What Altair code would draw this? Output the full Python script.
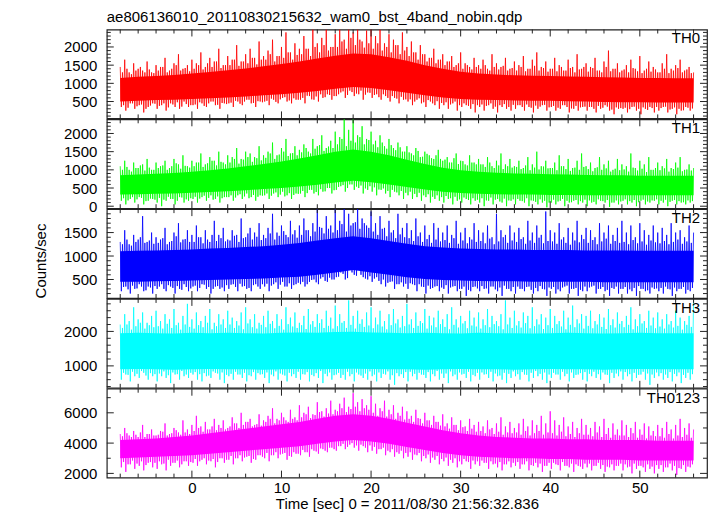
import altair as alt
import pandas as pd

TITLE = "ae806136010_20110830215632_wam0_bst_4band_nobin.qdp"
XTITLE = "Time [sec] 0 = 2011/08/30 21:56:32.836"
YTITLE = "Counts/sec"
BANDS = ["TH0", "TH1", "TH2", "TH3", "TH0123"]
COLORS = ["#ff0000", "#00ff00", "#0000ff", "#00ffff", "#ff00ff"]
X_DOMAIN = [-9.5, 57.5]
Y_DOMAINS = [[36, 2480], [-55, 2390], [105, 2000], [363, 2943], [1720, 7590]]
Y_MAJOR = [[500, 1000, 1500, 2000], [0, 500, 1000, 1500, 2000], [500, 1000, 1500],
           [1000, 2000], [2000, 4000, 6000]]
Y_MINOR = [list(range(100, 2500, 100)), list(range(0, 2400, 100)), list(range(200, 2000, 100)),
           list(range(400, 2900, 200)), list(range(2000, 8000, 1000))]
X_MAJOR = [0, 10, 20, 30, 40, 50]
X_MINOR = list(range(-8, 58, 2))

T_START = -8.0   # first time bin of the light curves (s)

# Excursions.
# *_UP_A: large upward excursions, every 0.5 s from -8 s
# *_UP_B: moderate upward excursions, every 0.5 s from -7.75 s
# *_DN_A / *_DN_B: downward excursions, every 0.5 s from -7.875 s / -7.625 s
# *_CORE_LO / *_CORE_HI: solid core of the band, every 2 s from -8 s
TH0_UP_A = [1450,1650,1300,1550,1400,1350,1600,1300,1500,
            1450,1700,1350,1550,1800,1400,1500,1650,
            1550,1850,1450,1700,1600,1950,1500,1750,
            1650,2050,1600,1800,1950,1700,2150,1750,
            1900,2200,1750,2000,2400,1850,2100,1950,
            2300,1950,2480,2100,2250,2480,2000,2350,
            2480,2200,2480,2400,2480,2150,2450,2480,
            2300,2480,2100,2350,2200,2050,2400,2000,
            2150,1850,2050,1800,1700,1950,1650,1800,
            1600,1750,1500,1850,1550,1450,1700,1500,
            1650,1400,1800,1550,1450,1700,1400,1600,
            1500,1750,1400,1650,1850,1450,1600,1400,
            1700,1500,1350,1650,1450,1800,1400,1550,
            1450,1700,1350,1600,1900,1400,1550,1350,
            1500,1650,1400,1750,1350,1600,1450,1300,
            1550,1800,1400,1500,1650,1350,1450,1300]
TH0_UP_B = [1300,1400,1250,1350,1450,1300,1380,1280,
            1350,1450,1300,1400,1500,1350,1420,1330,
            1400,1500,1380,1550,1450,1600,1420,1500,
            1500,1650,1480,1600,1550,1700,1520,1650,
            1650,1800,1600,1750,1700,1850,1650,1780,
            1800,1950,1750,2000,1850,2050,1900,2000,
            2000,2150,1950,2250,2050,2200,1980,2100,
            1950,2100,1900,2000,1850,2050,1800,1900,
            1750,1850,1650,1800,1600,1700,1550,1650,
            1500,1600,1450,1550,1400,1500,1380,1450,
            1400,1500,1350,1450,1380,1480,1350,1420,
            1350,1450,1330,1400,1480,1350,1420,1320,
            1400,1330,1450,1350,1420,1300,1380,1450,
            1320,1420,1350,1300,1450,1330,1400,1300,
            1380,1300,1420,1330,1280,1400,1320,1380,
            1300,1400,1280,1350,1420,1300,1380,1280]
TH0_DN_A = [350,250,450,300,400,200,350,450,
            300,400,250,450,350,300,500,350,
            400,300,450,350,500,400,300,450,
            450,350,500,400,550,450,350,500,
            500,400,550,450,600,500,450,550,
            550,450,650,550,500,600,700,550,
            650,750,600,800,650,700,550,750,
            600,700,550,650,500,600,450,550,
            500,400,550,450,350,500,400,300,
            400,300,450,250,350,400,300,200,
            350,250,400,300,200,350,300,250,
            300,400,250,350,200,300,400,250,
            350,250,300,400,200,300,250,350,
            250,350,200,300,400,250,150,300,
            300,200,350,250,150,300,350,200,
            250,350,200,300,150,250,350,250]
TH0_DN_B = [400,330,450,370,420,300,390,440,
            380,450,340,420,480,360,430,400,
            420,480,380,450,500,410,460,430,
            470,520,440,500,550,460,510,480,
            520,580,490,560,620,530,590,550,
            600,660,560,640,700,620,680,650,
            700,780,680,760,720,800,690,740,
            680,620,700,600,650,580,630,560,
            560,500,590,480,540,450,510,460,
            480,420,500,400,450,380,430,400,
            420,380,450,360,400,430,350,410,
            400,350,420,330,390,360,410,340,
            380,330,400,350,310,380,340,360,
            350,300,380,330,360,280,340,320,
            330,290,360,300,340,270,320,350,
            320,360,280,340,300,260,330,310]
TH0_CORE_LO = [500,520,540,550,570,590,610,640,670,700,740,790,850,900,870,810,740,
               670,610,570,550,540,530,520,520,510,500,490,480,480,470,470,470]
TH0_CORE_HI = [1150,1180,1200,1230,1270,1310,1360,1410,1470,1530,1600,1680,1760,1820,1800,1720,1620,
               1500,1400,1320,1270,1240,1220,1210,1200,1190,1180,1170,1160,1150,1150,1140,1140]

TH1_UP_A = [1100,1250,1000,1200,1050,1150,1300,1000,1200,
            1100,1250,1050,1300,1150,1400,1100,1250,
            1200,1450,1150,1350,1250,1500,1200,1400,
            1350,1600,1300,1500,1450,1350,1650,1400,
            1500,1750,1400,1600,1850,1450,1650,1550,
            1700,1500,1850,1650,1950,1600,1800,2050,
            1900,2390,2100,2390,1950,2200,1850,2050,
            1800,1950,1650,1850,1600,1750,1500,1650,
            1450,1600,1350,1500,1400,1300,1550,1250,
            1350,1200,1450,1250,1150,1400,1200,1300,
            1150,1350,1100,1250,1450,1150,1300,1100,
            1250,1050,1350,1150,1500,1100,1250,1050,
            1200,1400,1100,1300,1050,1250,1450,1100,
            1200,1050,1350,1150,1250,1000,1300,1150,
            1100,1450,1050,1250,1150,1350,1000,1200,
            1100,1300,1050,1200,1350,1000,1150,1050]
TH1_UP_B = [1000,1080,950,1050,1120,980,1060,1000,
            1050,1120,1000,1100,1180,1030,1110,1060,
            1100,1200,1080,1180,1250,1120,1220,1150,
            1200,1300,1170,1280,1350,1220,1320,1260,
            1330,1450,1300,1420,1500,1380,1460,1400,
            1480,1600,1450,1580,1680,1520,1640,1600,
            1700,1850,1650,1800,1750,1900,1700,1820,
            1700,1620,1750,1580,1680,1540,1620,1500,
            1480,1400,1520,1360,1440,1320,1400,1300,
            1280,1200,1320,1160,1240,1120,1200,1150,
            1150,1080,1200,1050,1120,1020,1100,1060,
            1080,1020,1120,990,1060,1010,1090,1040,
            1050,990,1100,1020,970,1060,1000,1080,
            1020,960,1070,1000,1040,950,1030,990,
            1010,950,1060,980,1030,940,1000,1050,
            990,1040,950,1020,1060,960,1010,980]
TH1_DN_A = [150,50,200,100,250,50,150,200,
            100,0,150,200,50,250,100,150,
            200,100,250,150,300,200,100,250,
            250,150,300,200,350,250,150,300,
            300,200,350,250,400,300,200,350,
            350,250,450,350,300,400,500,350,
            450,550,400,600,450,500,350,450,
            400,300,450,350,250,400,300,200,
            300,200,250,150,250,100,200,150,
            100,200,50,150,100,200,50,150,
            100,0,150,50,200,100,0,150,
            50,150,100,0,150,50,100,-30,
            100,50,150,0,100,150,50,100,
            0,100,50,150,100,-20,100,50,
            150,50,100,0,150,50,100,150,
            50,100,0,150,50,100,50,100]
TH1_DN_B = [220,160,250,190,230,140,210,180,
            230,180,260,200,150,240,190,220,
            260,210,290,230,180,270,220,250,
            300,240,330,270,220,310,260,290,
            350,290,380,320,270,360,310,340,
            420,360,450,390,470,410,500,440,
            530,580,500,600,540,570,490,550,
            520,460,490,420,450,380,420,370,
            400,340,370,300,330,260,300,250,
            280,220,260,190,240,170,220,180,
            220,160,240,180,130,210,160,190,
            200,140,220,160,120,190,150,100,
            180,130,200,150,110,170,140,180,
            160,120,190,140,170,100,160,130,
            190,140,170,110,180,130,160,190,
            150,180,120,170,140,110,160,140]
TH1_CORE_LO = [320,330,340,350,370,390,410,440,470,500,540,590,650,700,660,600,530,
               460,400,360,340,330,320,320,310,310,300,300,300,300,300,300,300]
TH1_CORE_HI = [850,870,890,910,950,990,1040,1100,1160,1230,1310,1400,1500,1560,1500,1400,1280,
               1160,1060,990,950,920,900,890,880,870,860,850,850,840,840,840,840]

TH2_UP_A = [1300,1550,1250,1450,1350,1850,1300,1500,1400,
            1350,1600,1300,1500,1700,1350,1550,1450,
            1650,1400,1550,1300,1750,1450,1600,1350,
            1550,1450,1800,1400,1600,1500,1700,1450,
            1600,1900,1500,1650,1450,1750,1550,1650,
            1800,1550,1700,2000,1600,1850,1650,2000,
            1750,2000,1900,1700,2000,1800,1650,1950,
            1700,1850,1600,1750,1550,1900,1600,1700,
            1550,1800,1500,1650,1450,1700,1600,1500,
            1650,1450,1750,1500,1600,1400,1700,1550,
            1500,1650,1400,1900,1550,1450,1650,1500,
            1600,1400,1750,1500,1650,1450,1950,1550,
            1500,1700,1400,1600,1500,1750,1450,1600,
            1550,1400,1700,1500,1650,1450,1600,1750,
            1500,1650,1400,1700,1550,1450,1650,1500,
            1600,1450,1700,1500,1550,1400,1650,1500]
TH2_UP_B = [1250,1350,1220,1300,1400,1280,1330,1260,
            1280,1380,1250,1320,1420,1290,1360,1300,
            1300,1400,1270,1350,1450,1320,1380,1310,
            1330,1430,1300,1380,1480,1350,1410,1340,
            1380,1480,1350,1430,1530,1400,1460,1390,
            1450,1550,1420,1520,1620,1480,1580,1500,
            1550,1680,1520,1650,1720,1580,1700,1600,
            1520,1450,1580,1420,1500,1380,1460,1400,
            1380,1320,1420,1300,1360,1280,1350,1310,
            1340,1280,1380,1260,1330,1270,1350,1300,
            1320,1270,1370,1250,1310,1400,1280,1330,
            1300,1360,1260,1330,1280,1390,1270,1320,
            1310,1260,1350,1280,1240,1330,1290,1360,
            1280,1340,1250,1310,1370,1260,1320,1280,
            1300,1250,1340,1270,1310,1240,1330,1290,
            1270,1320,1250,1300,1350,1260,1310,1280]
TH2_DN_A = [250,350,200,300,400,250,350,200,
            300,400,250,350,200,300,400,250,
            350,250,400,300,200,350,300,250,
            300,400,250,350,300,250,400,300,
            350,250,400,300,450,350,300,400,
            400,350,450,500,400,550,450,500,
            550,650,500,700,600,750,550,500,
            450,550,400,350,450,300,400,350,
            300,400,250,350,200,300,350,250,
            300,200,350,250,300,150,250,350,
            250,300,200,350,250,150,300,250,
            200,300,250,350,200,250,300,150,
            300,200,250,350,200,300,150,250,
            250,350,200,300,250,150,300,200,
            300,200,250,150,300,250,200,300,
            250,200,300,150,250,300,200,250]
TH2_DN_B = [340,290,370,310,350,270,330,360,
            350,300,380,320,360,280,340,310,
            370,320,390,340,300,360,330,380,
            390,340,410,360,320,380,350,400,
            410,370,440,390,350,420,380,430,
            450,400,490,440,520,470,540,500,
            560,620,530,650,580,600,520,570,
            520,470,500,430,460,400,440,410,
            420,380,400,340,370,320,360,330,
            380,330,360,300,350,280,340,310,
            360,310,350,290,330,370,300,340,
            350,300,340,280,320,360,290,330,
            340,290,330,370,300,320,280,350,
            330,370,300,340,280,320,350,300,
            340,290,320,360,300,270,330,310,
            320,350,290,330,300,340,280,320]
TH2_CORE_LO = [450,450,460,470,480,490,500,510,520,540,560,600,650,700,650,600,550,
               510,490,480,470,460,460,450,450,450,450,440,440,440,440,440,440]
TH2_CORE_HI = [1100,1110,1120,1130,1140,1160,1170,1190,1210,1240,1280,1330,1380,1420,1380,1320,1260,
               1210,1180,1160,1150,1140,1140,1130,1130,1130,1120,1120,1120,1110,1110,1110,1110]

TH3_UP_A = [2200,2500,2300,2700,2350,2550,2250,2450,2600,
            2300,2500,2350,2650,2250,2450,2800,2350,
            2550,2300,2450,2650,2250,2500,2350,2600,
            2400,2300,2550,2700,2350,2500,2250,2450,
            2600,2300,2500,2350,2700,2400,2550,2250,
            2450,2650,2300,2500,2350,2600,2400,2750,
            2500,2300,2900,2450,2600,2350,2550,2700,
            2400,2600,2300,2500,2650,2350,2450,2800,
            2350,2550,2300,2650,2450,2400,2600,2350,
            2500,2700,2350,2450,2300,2600,2400,2550,
            2350,2650,2450,2300,2500,2900,2400,2600,
            2300,2550,2450,2700,2350,2500,2400,2650,
            2450,2300,2600,2400,2750,2350,2500,2450,
            2600,2300,2500,2400,2650,2350,2550,2300,
            2450,2700,2350,2500,2300,2600,2400,2550,
            2350,2500,2300,2600,2400,2300,2450,2900]
TH3_UP_B = [2100,2200,2050,2150,2250,2080,2180,2120,
            2150,2080,2220,2100,2180,2050,2200,2130,
            2080,2180,2120,2250,2060,2150,2200,2100,
            2200,2100,2170,2060,2230,2120,2080,2190,
            2120,2220,2090,2160,2050,2210,2140,2100,
            2180,2070,2200,2130,2240,2100,2160,2080,
            2150,2250,2100,2190,2080,2220,2130,2170,
            2090,2200,2140,2060,2180,2230,2110,2150,
            2200,2100,2160,2240,2080,2170,2120,2210,
            2130,2060,2190,2110,2230,2090,2170,2140,
            2080,2180,2120,2210,2150,2060,2200,2100,
            2170,2110,2240,2090,2150,2200,2070,2180,
            2100,2210,2140,2060,2190,2120,2230,2080,
            2160,2090,2200,2130,2070,2180,2110,2220,
            2120,2190,2060,2150,2230,2100,2170,2090,
            2140,2080,2200,2110,2160,2050,2190,2130]
TH3_DN_A = [600,750,550,700,650,800,600,700,
            550,700,650,500,750,600,700,650,
            750,600,550,700,650,800,600,500,
            700,600,750,650,550,700,600,750,
            650,500,700,600,750,550,700,650,
            600,750,550,700,650,500,700,600,
            750,650,600,700,550,750,650,600,
            700,550,650,750,600,450,700,650,
            550,700,600,750,650,550,700,600,
            650,500,700,600,750,650,550,700,
            600,750,650,550,700,600,500,650,
            700,600,750,550,650,700,600,500,
            650,750,600,700,550,650,750,600,
            550,700,650,600,750,500,650,700,
            600,700,550,650,750,600,450,650,
            700,600,650,550,700,500,650,600]
TH3_DN_B = [800,740,830,770,850,720,790,760,
            780,840,730,810,760,850,750,800,
            820,760,790,720,840,780,810,740,
            770,830,750,800,730,820,790,760,
            810,750,840,780,720,800,760,830,
            760,820,740,790,850,770,810,730,
            800,740,830,760,810,720,780,840,
            750,810,770,840,730,790,760,820,
            830,770,800,740,820,760,850,780,
            780,840,750,810,770,830,740,800,
            810,760,830,780,720,800,770,840,
            760,820,740,800,850,770,810,750,
            800,750,830,770,810,740,790,820,
            770,830,760,810,740,800,780,840,
            820,760,800,740,830,780,750,810,
            790,750,820,770,810,740,800,760]
TH3_CORE_LO = [900,910,900,890,900,910,900,900,890,900,910,900,910,920,910,900,900,
               890,900,910,900,900,890,900,910,900,900,890,900,910,900,900,900]
TH3_CORE_HI = [1950,1960,1950,1940,1960,1950,1960,1950,1940,1960,1970,1960,1980,1990,1970,1960,1950,
               1960,1950,1940,1960,1950,1950,1940,1950,1960,1950,1940,1950,1960,1950,1950,1950]

TH0123_UP_A = [4600,5000,4500,4800,4400,5200,4600,4900,4500,
               4800,5300,4600,5000,4700,5500,4900,5200,
               5800,5100,5400,4900,5600,5200,5500,5000,
               5700,5300,6000,5400,5600,5200,5900,5500,
               5800,6300,5600,6000,5500,6200,5700,6500,
               6000,6400,5900,6700,6100,6300,6800,6200,
               6600,7000,6400,7300,6700,6900,6500,7100,
               6600,6300,6800,6200,6500,6000,6400,6100,
               5800,6200,5600,6000,5500,5800,5400,5900,
               5300,5700,5200,5500,5100,5600,5200,5400,
               5100,5500,5000,5300,5700,5100,5400,5000,
               5300,5600,5100,5500,5200,5800,5300,6100,
               5500,5200,5700,5100,5400,5000,5600,5200,
               5000,5400,5100,5600,5000,5300,4900,5500,
               5200,5000,5400,4900,5300,5100,4800,5200,
               5000,5400,4900,5200,5600,5000,5300,4900]
TH0123_UP_B = [4450,4650,4400,4550,4700,4400,4600,4500,
               4550,4750,4500,4650,4850,4550,4700,4600,
               4800,5000,4750,4900,5100,4850,5000,4900,
               5100,5300,5000,5200,5400,5100,5250,5150,
               5400,5600,5300,5500,5700,5400,5600,5500,
               5700,5900,5650,5850,6050,5750,5950,5900,
               6100,6300,6050,6250,6400,6100,6300,6200,
               6000,5800,6100,5750,5900,5600,5800,5550,
               5600,5400,5650,5300,5500,5200,5400,5150,
               5100,4950,5200,4850,5050,4800,4950,4750,
               4800,4650,4900,4600,4750,4550,4700,4650,
               4700,4550,4800,4500,4650,4800,4550,4700,
               4650,4500,4750,4450,4600,4400,4650,4550,
               4550,4450,4700,4400,4600,4350,4550,4500,
               4500,4400,4650,4350,4550,4300,4500,4450,
               4450,4350,4600,4300,4500,4400,4550,4350]
TH0123_DN_A = [2400,2100,2600,2300,2500,2200,2700,2400,
               2300,2600,2200,2500,2700,2400,2800,2500,
               2700,2500,2900,2600,2800,2400,3000,2700,
               2900,2600,3000,2800,3100,2700,2900,3200,
               3000,2800,3200,3000,3300,2900,3100,3300,
               3200,3400,3100,3500,3300,3600,3400,3700,
               3500,3800,3600,3900,3700,3500,3800,3400,
               3500,3300,3600,3200,3400,3100,3300,3000,
               3100,2900,3200,2800,3000,2700,2900,2600,
               2800,2500,2700,2400,2600,2800,2300,2600,
               2500,2700,2300,2600,2400,2200,2600,2400,
               2500,2300,2600,2200,2500,2400,2100,2500,
               2300,2600,2200,2500,2400,2100,2500,2300,
               2400,2200,2500,2300,2100,2400,2200,2500,
               2200,2400,2000,2300,2500,2100,2300,2000,
               2300,2100,2400,2200,1900,2300,2100,2400]
TH0123_DN_B = [2750,2600,2850,2650,2800,2550,2750,2700,
               2800,2650,2900,2700,2850,2600,2800,2750,
               2950,2800,3000,2850,2950,2750,3000,2900,
               3150,3000,3200,3050,3150,2950,3200,3100,
               3350,3200,3400,3250,3350,3150,3400,3300,
               3550,3400,3600,3450,3650,3500,3700,3600,
               3800,3950,3750,4000,3850,3900,3700,3850,
               3750,3600,3700,3500,3600,3400,3500,3350,
               3400,3250,3350,3150,3250,3050,3150,2950,
               3050,2900,3000,2800,2950,2750,2850,2800,
               2850,2700,2800,2650,2750,2600,2800,2700,
               2750,2600,2800,2550,2700,2650,2500,2700,
               2700,2550,2750,2500,2650,2600,2450,2650,
               2650,2500,2700,2550,2450,2600,2500,2650,
               2600,2450,2650,2500,2400,2600,2450,2550,
               2550,2400,2650,2500,2350,2550,2450,2600]
TH0123_CORE_LO = [3000,3050,3100,3150,3200,3300,3400,3500,3600,3700,3800,3950,4100,4200,4100,3950,3750,
                  3550,3350,3200,3100,3050,3000,3000,2950,2950,2900,2900,2900,2850,2850,2850,2850]
TH0123_CORE_HI = [4200,4250,4300,4400,4500,4650,4800,4950,5100,5250,5400,5600,5800,5900,5800,5600,5350,
                  5100,4850,4650,4500,4400,4350,4300,4300,4250,4250,4200,4200,4200,4150,4150,4150]

UP_A = [TH0_UP_A, TH1_UP_A, TH2_UP_A, TH3_UP_A, TH0123_UP_A]
UP_B = [TH0_UP_B, TH1_UP_B, TH2_UP_B, TH3_UP_B, TH0123_UP_B]
DN_A = [TH0_DN_A, TH1_DN_A, TH2_DN_A, TH3_DN_A, TH0123_DN_A]
DN_B = [TH0_DN_B, TH1_DN_B, TH2_DN_B, TH3_DN_B, TH0123_DN_B]
CORE_LOS = [TH0_CORE_LO, TH1_CORE_LO, TH2_CORE_LO, TH3_CORE_LO, TH0123_CORE_LO]
CORE_HIS = [TH0_CORE_HI, TH1_CORE_HI, TH2_CORE_HI, TH3_CORE_HI, TH0123_CORE_HI]

W = 601.5
H = 89.1
FONT = "Liberation Sans"
FS = 15
INK = "#222222"


def x_enc(show):
    if show:
        ax = alt.Axis(values=X_MAJOR, format="d", ticks=False, domain=False, grid=False,
                      labelFont=FONT, labelFontSize=FS, labelColor="black", labelPadding=3,
                      labelFlush=False, labelOverlap=False, title=XTITLE, titleFont=FONT,
                      titleFontSize=FS, titleFontWeight="normal", titleColor="black",
                      titlePadding=1)
    else:
        ax = None
    return alt.X("t:Q", scale=alt.Scale(domain=X_DOMAIN, nice=False, zero=False), axis=ax)


def y_enc(field, k):
    ax = alt.Axis(values=Y_MAJOR[k], format="d", ticks=False, domain=False, grid=False,
                  labelFont=FONT, labelFontSize=FS, labelColor="black", labelPadding=10,
                  labelFlush=False, labelOverlap=False, title=None)
    return alt.Y(field, scale=alt.Scale(domain=Y_DOMAINS[k], nice=False, zero=False), axis=ax)


def interleave(a, b):
    out = []
    for i, v in enumerate(a):
        out.append(v)
        if i < len(b):
            out.append(b[i])
    return out


def panel(k):
    show_x = k == len(BANDS) - 1
    ups = interleave(UP_A[k], UP_B[k])      # every 0.25 s from -8 s
    dns = interleave(DN_A[k], DN_B[k])      # every 0.25 s from -7.875 s
    rows = []
    for i, v in enumerate(ups):
        rows.append({"t": T_START + 0.25 * i, "v": v})
        if i < len(dns):
            rows.append({"t": T_START + 0.125 + 0.25 * i, "v": dns[i]})
    zig = pd.DataFrame(rows)
    core = pd.DataFrame({"t": [T_START + 2 * i for i in range(len(CORE_LOS[k]))],
                         "lo": CORE_LOS[k], "hi": CORE_HIS[k]})
    color = COLORS[k]
    layers = [
        alt.Chart(core).mark_area(color=color, clip=True, opacity=1).encode(
            x=x_enc(show_x), y=y_enc("lo:Q", k), y2="hi:Q"),
        alt.Chart(zig).mark_line(color=color, strokeWidth=1, strokeOpacity=0.8, clip=True).encode(
            x=x_enc(show_x), y=y_enc("v:Q", k)),
    ]
    xmin = [v for v in X_MINOR if v not in X_MAJOR]
    for vals, ln in ((X_MAJOR, 7), (xmin, 4)):
        df = pd.DataFrame({"t": vals})
        for y0, y1 in ((0, ln), (H, H - ln)):
            layers.append(alt.Chart(df).mark_rule(color=INK, strokeWidth=1).encode(
                x=x_enc(show_x), y=alt.value(y0), y2=alt.value(y1)))
    ymin = [v for v in Y_MINOR[k] if v not in Y_MAJOR[k]
            and Y_DOMAINS[k][0] < v < Y_DOMAINS[k][1]]
    for vals, ln in ((Y_MAJOR[k], 7), (ymin, 4)):
        df = pd.DataFrame({"v": vals})
        for x0, x1 in ((0, ln), (W, W - ln)):
            layers.append(alt.Chart(df).mark_rule(color=INK, strokeWidth=1).encode(
                y=y_enc("v:Q", k), x=alt.value(x0), x2=alt.value(x1)))
    layers.append(alt.Chart(pd.DataFrame({"s": [BANDS[k]]})).mark_text(
        align="right", baseline="top", font=FONT, fontSize=FS, color="black").encode(
        x=alt.value(W - 7), y=alt.value(2), text="s:N"))
    if k == 0:
        layers.append(alt.Chart(pd.DataFrame({"s": [TITLE]})).mark_text(
            align="left", baseline="top", font=FONT, fontSize=FS, color="black").encode(
            x=alt.value(0), y=alt.value(-19.7), text="s:N"))
    if k == 2:
        layers.append(alt.Chart(pd.DataFrame({"s": [YTITLE]})).mark_text(
            align="center", baseline="middle", angle=270, font=FONT, fontSize=FS,
            color="black").encode(x=alt.value(-65.7), y=alt.value(52), text="s:N"))
    return alt.layer(*layers).properties(width=W, height=H)


chart = alt.vconcat(*[panel(k) for k in range(len(BANDS))], spacing=0, bounds="flush").properties(
    padding={"left": 25, "top": 0, "right": 0, "bottom": 0}
).configure_view(stroke=INK, strokeWidth=1.2)

chart.save("out.html", embed_options={"renderer": "svg", "actions": False})
